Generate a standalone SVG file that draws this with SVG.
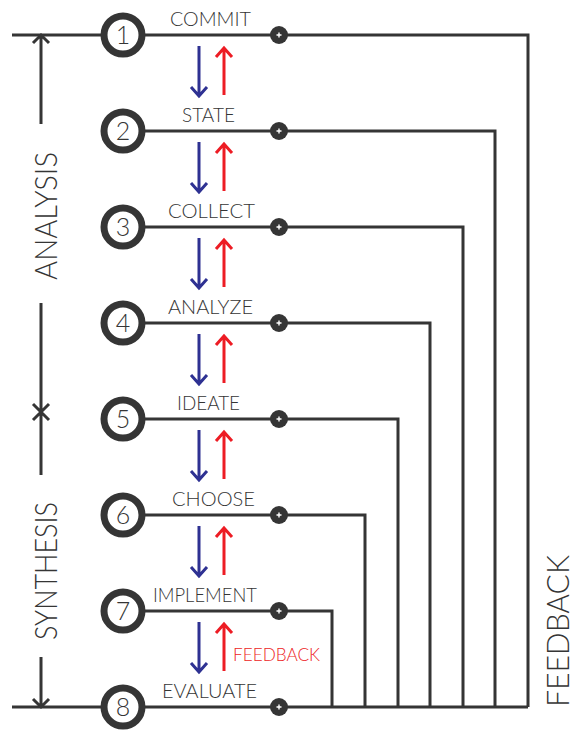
<svg xmlns="http://www.w3.org/2000/svg" xmlns:xlink="http://www.w3.org/1999/xlink" width="576" height="731" viewBox="0 0 576 731">
  <style>
    .wire { fill: none; stroke: #353535; stroke-width: 3; stroke-linejoin: miter; }
    .ring { fill: #ffffff; stroke: #353535; stroke-width: 7; }
    .num { font-family: Lato, "Liberation Sans", sans-serif; font-weight: 300; font-size: 25px; fill: #353535; text-anchor: middle; }
    .lbl { font-family: Lato, "Liberation Sans", sans-serif; font-weight: 300; font-size: 19px; fill: #353535; }
    .axis { font-family: Lato, "Liberation Sans", sans-serif; font-weight: 300; font-size: 31px; fill: #353535; }
    .dot { fill: #353535; }
    .plus { stroke: #ffffff; stroke-width: 1.4; }
    .down { fill: none; stroke: #2e3192; stroke-width: 3; }
    .up { fill: none; stroke: #ed1c24; stroke-width: 3; }
    .fb { font-family: Lato, "Liberation Sans", sans-serif; font-weight: 300; font-size: 17px; fill: #ed1c24; }
  </style>
  <defs>
    <!-- down/up arrow pair placed between two consecutive steps -->
    <g id="pair">
      <path class="down" d="M199 11 V60 M191 52 L199 61 L207 52"/>
      <path class="up" d="M224 60 V14 M216 22 L224 13 L232 22"/>
    </g>
    <!-- junction dot with a small plus -->
    <g id="junction">
      <circle class="dot" cx="0" cy="0" r="9"/>
      <path class="plus" d="M-2.5 0 H2.5 M0 -2.5 V2.5"/>
    </g>
  </defs>

  <!-- connectors: step lines, feedback returns, left axis -->
  <g id="connectors">
    <path class="wire" d="M12 35 H528 V707"/>
    <path class="wire" d="M145 131 H495 V707"/>
    <path class="wire" d="M145 227 H463 V707"/>
    <path class="wire" d="M145 323 H430 V707"/>
    <path class="wire" d="M145 419 H398 V707"/>
    <path class="wire" d="M145 515 H365 V707"/>
    <path class="wire" d="M145 611 H332 V707"/>
    <path class="wire" d="M12 707 H528"/>

    <!-- left axis -->
    <path class="wire" d="M41 35 V124 M33 43 L41 35 L49 43"/>
    <path class="wire" d="M41 303 V475 M33 404 L49 420 M33 420 L49 404"/>
    <path class="wire" d="M41 657 V707 M33 699 L41 707 L49 699"/>

    <use xlink:href="#pair" y="35"/>
    <use xlink:href="#pair" y="131"/>
    <use xlink:href="#pair" y="227"/>
    <use xlink:href="#pair" y="323"/>
    <use xlink:href="#pair" y="419"/>
    <use xlink:href="#pair" y="515"/>
    <use xlink:href="#pair" y="611"/>

    <use xlink:href="#junction" x="279" y="35"/>
    <use xlink:href="#junction" x="279" y="131"/>
    <use xlink:href="#junction" x="279" y="227"/>
    <use xlink:href="#junction" x="279" y="323"/>
    <use xlink:href="#junction" x="279" y="419"/>
    <use xlink:href="#junction" x="279" y="515"/>
    <use xlink:href="#junction" x="279" y="611"/>
    <use xlink:href="#junction" x="279" y="707"/>
  </g>

  <!-- steps -->
  <g id="step1">
    <circle class="ring" cx="123" cy="35" r="19"/>
    <text class="num" x="123" y="44">1</text>
    <text class="lbl" x="170" y="26" textLength="81" lengthAdjust="spacingAndGlyphs">COMMIT</text>
  </g>
  <g id="step2">
    <circle class="ring" cx="123" cy="131" r="19"/>
    <text class="num" x="123" y="140">2</text>
    <text class="lbl" x="182" y="122" textLength="53" lengthAdjust="spacingAndGlyphs">STATE</text>
  </g>
  <g id="step3">
    <circle class="ring" cx="123" cy="227" r="19"/>
    <text class="num" x="123" y="236">3</text>
    <text class="lbl" x="168" y="218" textLength="87" lengthAdjust="spacingAndGlyphs">COLLECT</text>
  </g>
  <g id="step4">
    <circle class="ring" cx="123" cy="323" r="19"/>
    <text class="num" x="123" y="332">4</text>
    <text class="lbl" x="168" y="314" textLength="85" lengthAdjust="spacingAndGlyphs">ANALYZE</text>
  </g>
  <g id="step5">
    <circle class="ring" cx="123" cy="419" r="19"/>
    <text class="num" x="123" y="428">5</text>
    <text class="lbl" x="177" y="410" textLength="63" lengthAdjust="spacingAndGlyphs">IDEATE</text>
  </g>
  <g id="step6">
    <circle class="ring" cx="123" cy="515" r="19"/>
    <text class="num" x="123" y="524">6</text>
    <text class="lbl" x="172" y="506" textLength="83" lengthAdjust="spacingAndGlyphs">CHOOSE</text>
  </g>
  <g id="step7">
    <circle class="ring" cx="123" cy="611" r="19"/>
    <text class="num" x="123" y="620">7</text>
    <text class="lbl" x="153" y="602" textLength="104" lengthAdjust="spacingAndGlyphs">IMPLEMENT</text>
  </g>
  <g id="step8">
    <circle class="ring" cx="123" cy="707" r="19"/>
    <text class="num" x="123" y="716">8</text>
    <text class="lbl" x="162" y="698" textLength="95" lengthAdjust="spacingAndGlyphs">EVALUATE</text>
  </g>

  <!-- phase and feedback labels -->
  <g id="labels">
    <text class="fb" x="233" y="661" textLength="87" lengthAdjust="spacingAndGlyphs">FEEDBACK</text>
    <text class="axis" transform="translate(57 280) rotate(-90)" textLength="128" lengthAdjust="spacingAndGlyphs">ANALYSIS</text>
    <text class="axis" transform="translate(57 640) rotate(-90)" textLength="138" lengthAdjust="spacingAndGlyphs">SYNTHESIS</text>
    <text class="axis" transform="translate(569 707) rotate(-90)" font-size="27" textLength="152" lengthAdjust="spacingAndGlyphs">FEEDBACK</text>
  </g>
</svg>
